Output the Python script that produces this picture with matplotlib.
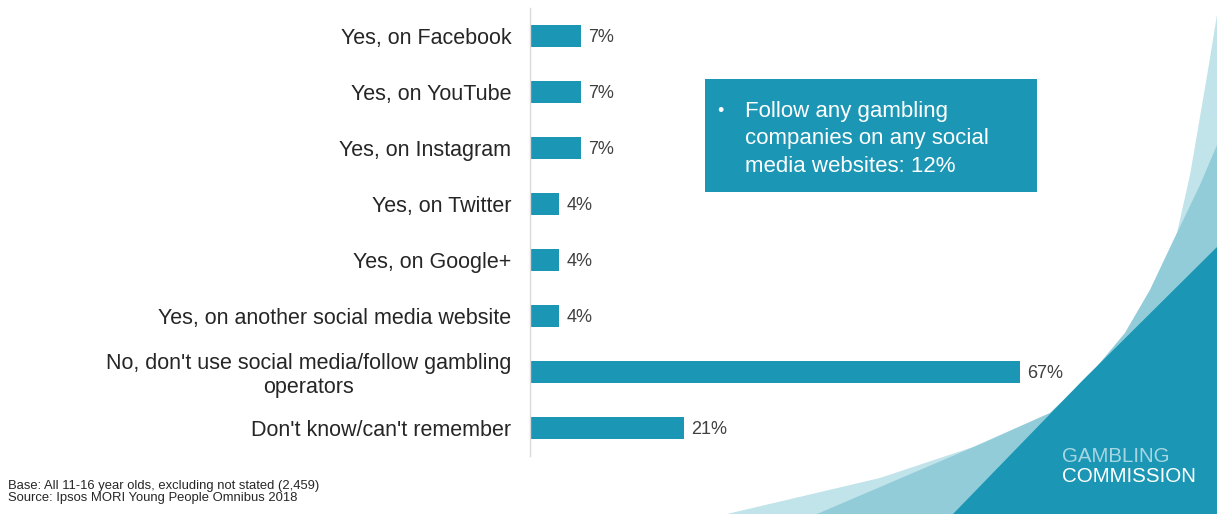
import matplotlib
matplotlib.use("agg")
import matplotlib.pyplot as plt
from matplotlib.patches import Polygon, Rectangle

categories = [
    "Yes, on Facebook",
    "Yes, on YouTube",
    "Yes, on Instagram",
    "Yes, on Twitter",
    "Yes, on Google+",
    "Yes, on another social media website",
    "No, don't use social media/follow gambling\noperators",
    "Don't know/can't remember",
]
values = [7, 7, 7, 4, 4, 4, 67, 21]
value_labels = ["7%", "7%", "7%", "4%", "4%", "4%", "67%", "21%"]

box_text = "Follow any gambling\ncompanies on any social\nmedia websites: 12%"
footnote = ("Base: All 11-16 year olds, excluding not stated (2,459)\n"
            "Source: Ipsos MORI Young People Omnibus 2018")

DARK = "#1b97b5"
MID = "#93ccd9"
LIGHT = "#c1e3ea"

plt.rcParams["font.family"] = ["Liberation Sans", "DejaVu Sans"]

W, H = 1217, 514
fig = plt.figure(figsize=(W / 100, H / 100), dpi=100)


def px(x, y):
    return (x / W, 1 - y / H)


# background swooshes in the lower right corner
light_pts = [(1217, 15), (1208, 70), (1200, 117), (1190, 175), (1177, 233),
             (1150, 290), (1125, 333), (1090, 375), (1050, 413), (973, 447),
             (880, 478), (727, 514), (1217, 514)]
mid_pts = [(1217, 145), (1200, 185), (1177, 233), (1150, 290), (1125, 333),
           (1090, 375), (1050, 413), (983, 443), (817, 514), (1217, 514)]
dark_pts = [(1217, 247), (1083, 380), (953, 514), (1217, 514)]
for pts, c in [(light_pts, LIGHT), (mid_pts, MID), (dark_pts, DARK)]:
    fig.patches.append(Polygon([px(x, y) for x, y in pts], closed=True,
                               transform=fig.transFigure, facecolor=c,
                               edgecolor="none", zorder=0))

ax = fig.add_axes([530 / W, 1 - 456 / H, (W - 530) / W, 448 / H])
ax.patch.set_visible(False)
ypos = list(range(len(categories)))
ax.barh(ypos, values, height=0.41, color=DARK, zorder=2)
for y, v, lab in zip(ypos, values, value_labels):
    ax.text(v + 1.0, y, lab, va="center_baseline", ha="left", fontsize=13,
            color="#404040")

ax.set_xlim(0, (W - 530) / 7.31)
ax.set_ylim(len(categories) - 0.5, -0.5)
ax.set_yticks(ypos)
ax.set_yticklabels(categories, fontsize=15.5, color="#262626",
                   multialignment="center", linespacing=1.15)
ax.tick_params(axis="y", length=0, pad=13.5)
ax.set_xticks([])
for s in ["top", "right", "bottom"]:
    ax.spines[s].set_visible(False)
ax.spines["left"].set_color("#d9d9d9")
ax.spines["left"].set_linewidth(1)

# summary box
x0, y0 = px(705, 192)
fig.patches.append(Rectangle((x0, y0), 332 / W, 113 / H,
                             transform=fig.transFigure, facecolor=DARK,
                             edgecolor="none", zorder=3))
fig.text(*px(717, 111), "\u2022", color="white", fontsize=13, va="center",
         ha="left", zorder=4)
fig.text(*px(745, 139), box_text, color="white", fontsize=16, va="center",
         ha="left", linespacing=1.38, zorder=4)

fig.text(*px(8, 492), footnote, fontsize=9.4, color="#262626", va="center",
         ha="left", linespacing=1.05)

fig.text(*px(1062, 457), "GAMBLING", fontsize=14.8, color="#a6d6e2",
         va="center", ha="left")
fig.text(*px(1062, 477), "COMMISSION", fontsize=14.8, color="white",
         va="center", ha="left")

fig.savefig("out.png", dpi=100)
